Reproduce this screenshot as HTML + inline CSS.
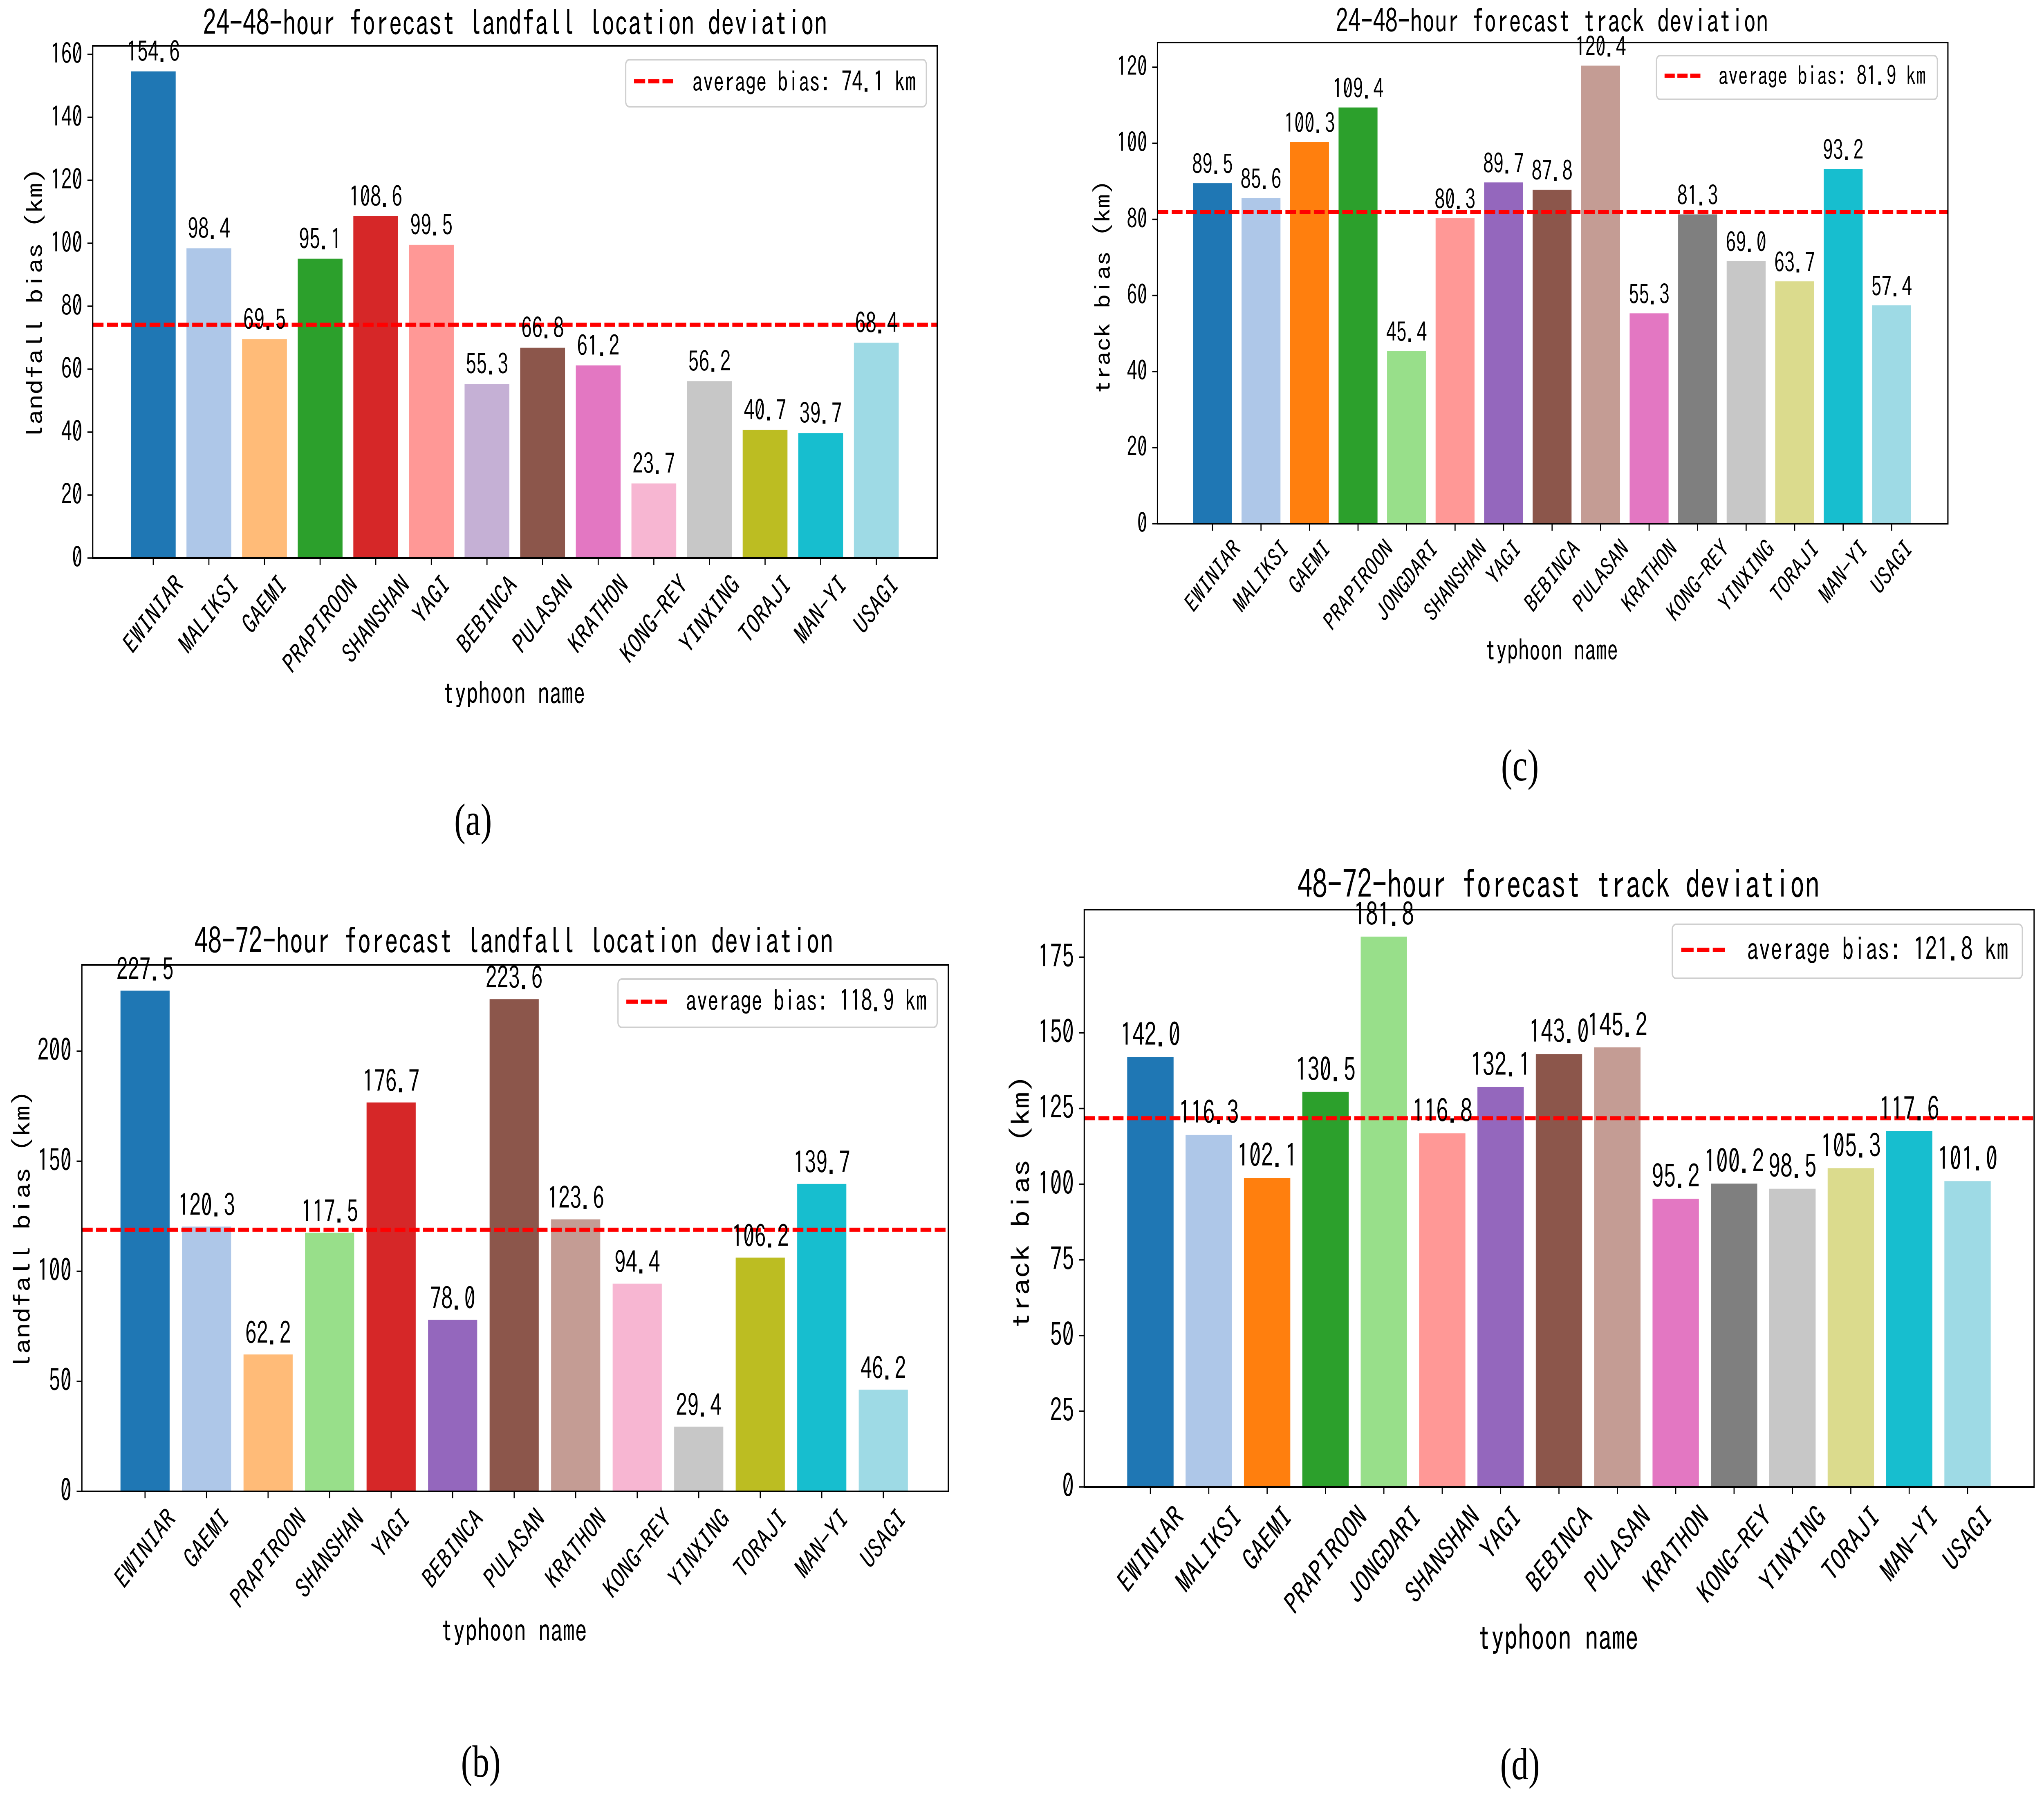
<!DOCTYPE html>
<html lang="en">
<head>
<meta charset="utf-8">
<title>Typhoon forecast deviation charts</title>
<style>
  html, body { margin: 0; padding: 0; background: #fff; width: 100%; height: 100%; overflow: hidden; }
  svg#figure { display: block; position: absolute; left: 0; top: 0; width: 100vw; height: 100vh; }
  text { font-family: "IPAGothic", "Liberation Sans", sans-serif; fill: #000; }
  .cap { font-family: "Liberation Serif", serif; font-size: 110px; text-anchor: middle; }
  .mid { text-anchor: middle; }
  .legend-box { fill: #fff; stroke: #cfcfcf; stroke-width: 4; }
  .legend-line { stroke: #ff0000; stroke-width: 10; fill: none; }
</style>
</head>
<body>
<svg id="figure" xmlns="http://www.w3.org/2000/svg" viewBox="0 0 6615 4398" preserveAspectRatio="none">
  <rect x="0" y="0" width="6615" height="4398" fill="#ffffff"/>

  <g>
    <g id="marks-a"></g>
    <text class="mid" x="1667" y="87" font-size="86">24-48-hour forecast landfall location deviation</text>
    <text class="mid" x="1663" y="1723" font-size="77">typhoon name</text>
    <text class="mid" transform="translate(139 743) rotate(-90)" font-size="74">landfall bias (km)</text>
    <g>
      <rect class="legend-box" x="2025" y="146" width="973" height="115" rx="12"/>
      <line class="legend-line" stroke-dasharray="36 10" x1="2052" x2="2179" y1="199" y2="199"/>
      <text x="2240" y="224" font-size="69">average bias: 74.1 km</text>
    </g>
    <text class="cap" x="1531" y="2042">(a)</text>
  </g>

  <g>
    <g id="marks-b"></g>
    <text class="mid" x="1663" y="2333" font-size="88">48-72-hour forecast landfall location deviation</text>
    <text class="mid" x="1663" y="4016" font-size="79">typhoon name</text>
    <text class="mid" transform="translate(99 3008) rotate(-90)" font-size="76">landfall bias (km)</text>
    <g>
      <rect class="legend-box" x="2000" y="2395" width="1033" height="118" rx="12"/>
      <line class="legend-line" stroke-dasharray="37 10" x1="2027" x2="2158" y1="2450" y2="2450"/>
      <text x="2219" y="2473" font-size="71">average bias: 118.9 km</text>
    </g>
    <text class="cap" x="1556" y="4346">(b)</text>
  </g>

  <g>
    <g id="marks-c"></g>
    <text class="mid" x="5023" y="80" font-size="80">24-48-hour forecast track deviation</text>
    <text class="mid" x="5021" y="1616" font-size="72">typhoon name</text>
    <text class="mid" transform="translate(3594 702) rotate(-90)" font-size="70">track bias (km)</text>
    <g>
      <rect class="legend-box" x="5361" y="136" width="909" height="107" rx="12"/>
      <line class="legend-line" stroke-dasharray="33 8.5" x1="5387" x2="5503" y1="185" y2="185"/>
      <text x="5561" y="208" font-size="64">average bias: 81.9 km</text>
    </g>
    <text class="cap" x="4919" y="1909">(c)</text>
  </g>

  <g>
    <g id="marks-d"></g>
    <text class="mid" x="5044" y="2198" font-size="96.6">48-72-hour forecast track deviation</text>
    <text class="mid" x="5042" y="4037" font-size="87">typhoon name</text>
    <text class="mid" transform="translate(3333 2940) rotate(-90)" font-size="83">track bias (km)</text>
    <g>
      <rect class="legend-box" x="5412" y="2261" width="1133" height="132" rx="12"/>
      <line class="legend-line" stroke-dasharray="40 11" x1="5441" x2="5583" y1="2323" y2="2323"/>
      <text x="5653" y="2349" font-size="77">average bias: 121.8 km</text>
    </g>
    <text class="cap" x="4919" y="4352">(d)</text>
  </g>
</svg>

<script>
// Chart (a): 24-48 h landfall
const namesA = ["EWINIAR","MALIKSI","GAEMI","PRAPIROON","SHANSHAN","YAGI","BEBINCA","PULASAN","KRATHON","KONG-REY","YINXING","TORAJI","MAN-YI","USAGI"];
const valuesA = [154.6,98.4,69.5,95.1,108.6,99.5,55.3,66.8,61.2,23.7,56.2,40.7,39.7,68.4];
const colorsA = ["#1f77b4","#aec7e8","#ffbb78","#2ca02c","#d62728","#ff9896","#c5b0d5","#8c564b","#e377c2","#f7b6d2","#c7c7c7","#bcbd22","#17becf","#9edae5"];
const ticksA = [0,20,40,60,80,100,120,140,160];
const averageA = 74.1;

// Chart (b): 48-72 h landfall
const namesB = ["EWINIAR","GAEMI","PRAPIROON","SHANSHAN","YAGI","BEBINCA","PULASAN","KRATHON","KONG-REY","YINXING","TORAJI","MAN-YI","USAGI"];
const valuesB = [227.5,120.3,62.2,117.5,176.7,78.0,223.6,123.6,94.4,29.4,106.2,139.7,46.2];
const colorsB = ["#1f77b4","#aec7e8","#ffbb78","#98df8a","#d62728","#9467bd","#8c564b","#c49c94","#f7b6d2","#c7c7c7","#bcbd22","#17becf","#9edae5"];
const ticksB = [0,50,100,150,200];
const averageB = 118.9;

// Chart (c): 24-48 h track
const namesC = ["EWINIAR","MALIKSI","GAEMI","PRAPIROON","JONGDARI","SHANSHAN","YAGI","BEBINCA","PULASAN","KRATHON","KONG-REY","YINXING","TORAJI","MAN-YI","USAGI"];
const valuesC = [89.5,85.6,100.3,109.4,45.4,80.3,89.7,87.8,120.4,55.3,81.3,69.0,63.7,93.2,57.4];
const colorsC = ["#1f77b4","#aec7e8","#ff7f0e","#2ca02c","#98df8a","#ff9896","#9467bd","#8c564b","#c49c94","#e377c2","#7f7f7f","#c7c7c7","#dbdb8d","#17becf","#9edae5"];
const ticksC = [0,20,40,60,80,100,120];
const averageC = 81.9;

// Chart (d): 48-72 h track
const namesD = ["EWINIAR","MALIKSI","GAEMI","PRAPIROON","JONGDARI","SHANSHAN","YAGI","BEBINCA","PULASAN","KRATHON","KONG-REY","YINXING","TORAJI","MAN-YI","USAGI"];
const valuesD = [142.0,116.3,102.1,130.5,181.8,116.8,132.1,143.0,145.2,95.2,100.2,98.5,105.3,117.6,101.0];
const colorsD = ["#1f77b4","#aec7e8","#ff7f0e","#2ca02c","#98df8a","#ff9896","#9467bd","#8c564b","#c49c94","#e377c2","#7f7f7f","#c7c7c7","#dbdb8d","#17becf","#9edae5"];
const ticksD = [0,25,50,75,100,125,150,175];
const averageD = 121.8;

const SVG_NS = "http://www.w3.org/2000/svg";

function make(tag, attrs, parent) {
  const el = document.createElementNS(SVG_NS, tag);
  for (const k in attrs) el.setAttribute(k, attrs[k]);
  parent.appendChild(el);
  return el;
}

function drawChart(id, frame, names, values, colors, ticks, average) {
  const root = document.getElementById("marks-" + id);
  const fs = frame.fontSize;
  const xfs = frame.xTickSize;
  const xOf = function (i) { return frame.firstCenter + i * frame.step; };
  const yOf = function (v) { return frame.bottom - v * frame.pxPerUnit; };

  // bars
  values.forEach(function (v, i) {
    const el = make("rect", { x: xOf(i) - frame.barWidth / 2, y: yOf(v), width: frame.barWidth, height: frame.bottom - yOf(v), fill: colors[i] }, root);
    
    
  });

  // average line
  const avg = make("line", { x1: frame.left, x2: frame.right, y1: yOf(average), y2: yOf(average), stroke: "#ff0000", "stroke-width": 10, "stroke-dasharray": "35 11" }, root);
  
  

  // spines
  const frameEl = make("rect", { x: frame.left, y: frame.top, width: frame.right - frame.left, height: frame.bottom - frame.top, fill: "none", stroke: "#000", "stroke-width": 4 }, root);
  
  

  // y ticks
  ticks.forEach(function (t) {
    const mark = make("line", { x1: frame.left - 17, x2: frame.left, y1: yOf(t), y2: yOf(t), stroke: "#000", "stroke-width": 3.5 }, root);
    
    
    const label = make("text", { x: frame.left - 33, y: yOf(t) + fs * 0.33, "font-size": fs, "text-anchor": "end" }, root);
    label.textContent = String(t);
    
    
  });

  // x ticks, category labels and printed values
  names.forEach(function (name, i) {
    const x = xOf(i);
    const mark = make("line", { x1: x, x2: x, y1: frame.bottom, y2: frame.bottom + 17, stroke: "#000", "stroke-width": 3.5 }, root);
    
    

    const span = name.length * xfs * 0.5;
    const cy = frame.bottom + xfs * 0.78 + span * 0.3535;
    const label = make("text", { transform: "translate(" + x + " " + cy + ") rotate(-45)", "font-size": xfs, "text-anchor": "middle", "dominant-baseline": "central" }, root);
    label.textContent = name;
    
    

    const val = make("text", { x: x, y: yOf(values[i]) - fs * 0.34, "font-size": fs, "text-anchor": "middle" }, root);
    val.textContent = values[i].toFixed(1);
    
    
  });
}

drawChart("a", { left: 300, right: 3033, top: 112, bottom: 1365, pxPerUnit: 7.70, firstCenter: 496, step: 180, barWidth: 145, fontSize: 69, xTickSize: 68 }, namesA, valuesA, colorsA, ticksA, averageA);
drawChart("b", { left: 265, right: 3069, top: 2360, bottom: 3648, pxPerUnit: 5.384, firstCenter: 469.4, step: 199.1, barWidth: 159, fontSize: 74, xTickSize: 69 }, namesB, valuesB, colorsB, ticksB, averageB);
drawChart("c", { left: 3746, right: 6304, top: 104, bottom: 1281, pxPerUnit: 9.306, firstCenter: 3924, step: 157, barWidth: 126, fontSize: 66, xTickSize: 63 }, namesC, valuesC, colorsC, ticksC, averageC);
drawChart("d", { left: 3509, right: 6583, top: 2225, bottom: 3637, pxPerUnit: 7.404, firstCenter: 3723, step: 188.9, barWidth: 150, fontSize: 78, xTickSize: 75 }, namesD, valuesD, colorsD, ticksD, averageD);
</script>
</body>
</html>
